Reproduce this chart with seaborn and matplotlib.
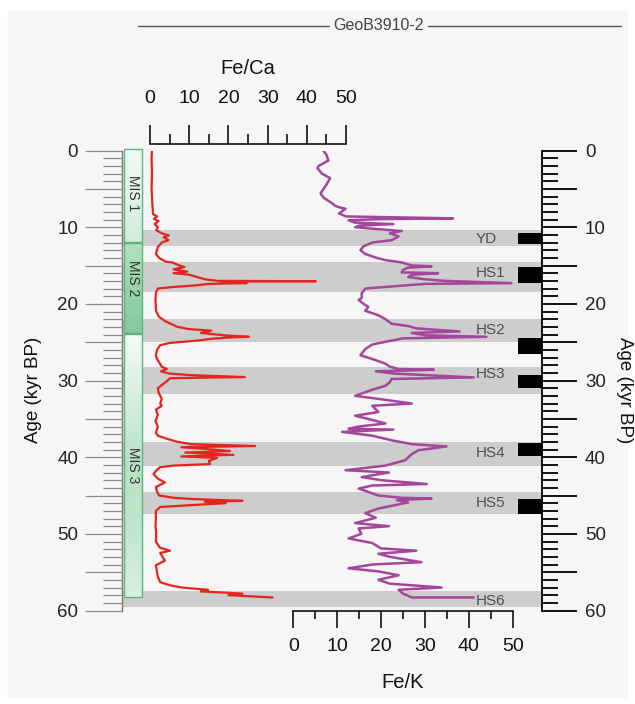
import numpy as np
import pandas as pd
import matplotlib
matplotlib.use("Agg")
import matplotlib.pyplot as plt
import seaborn as sns
from matplotlib.ticker import MultipleLocator, FuncFormatter
from matplotlib.lines import Line2D
from matplotlib.patches import Rectangle
import matplotlib.colors as mcolors

# ---------------- data ----------------
age_ca = [0.0, 1.0, 3.0, 5.0, 7.0, 8.3, 8.6, 8.9, 9.2, 9.6, 10.0, 10.4, 10.8, 11.1, 11.3, 11.7,
          12.0, 12.6, 13.5, 14.0, 14.5, 14.6, 15.0, 15.2, 15.5, 15.8, 16.0, 16.2, 16.5, 16.8,
          17.0, 17.05, 17.1, 17.3, 17.4, 17.6, 17.8, 18.0, 18.6, 19.5, 20.5, 21.0, 21.7, 22.3,
          23.0, 23.3, 23.5, 23.8, 24.1, 24.3, 24.4, 24.6, 24.8, 25.1, 25.4, 26.0, 26.7, 27.2,
          27.6, 28.2, 28.5, 28.8, 29.1, 29.3, 29.55, 29.7, 30.0, 30.4, 31.0, 31.6, 32.4, 33.0,
          33.3, 33.8, 34.5, 35.3, 36.0, 36.8, 37.2, 37.6, 38.0, 38.3, 38.55, 38.7, 39.0, 39.2,
          39.4, 39.7, 39.9, 40.1, 40.5, 40.9, 41.1, 41.3, 41.8, 42.2, 42.8, 43.3, 43.9, 44.5,
          45.0, 45.3, 45.45, 45.7, 45.8, 46.0, 46.2, 46.5, 47.0, 48.0, 49.0, 50.0, 51.0, 51.8,
          52.2, 52.5, 53.0, 53.5, 54.1, 55.0, 55.6, 56.3, 56.7, 57.0, 57.3, 57.5, 57.8, 58.0, 58.3]
fe_ca = [0.5, 0.4, 0.5, 0.4, 0.6, 0.8, 1.8, 1.0, 2.2, 1.2, 2.0, 1.6, 3.0, 4.8, 3.5, 4.7,
         3.0, 2.0, 1.5, 2.3, 4.0, 5.7, 7.5, 8.8, 6.0, 9.5, 6.0, 10.0, 12.0, 14.0,
         17.1, 42.3, 18.0, 24.7, 15.0, 11.4, 6.0, 2.0, 1.5, 1.4, 1.5, 1.6, 2.3, 4.0,
         7.0, 10.0, 15.6, 13.0, 19.0, 25.2, 19.6, 15.0, 12.0, 5.0, 2.6, 1.8, 1.5, 1.8,
         2.3, 3.0, 4.3, 2.8, 5.0, 10.5, 24.2, 5.1, 4.5, 3.5, 2.0, 2.2, 3.0, 2.6,
         3.0, 1.5, 2.0, 1.4, 2.0, 1.5, 2.0, 4.3, 7.0, 10.5, 26.8, 8.0, 16.0, 20.4,
         9.0, 21.3, 8.0, 17.1, 15.0, 15.3, 6.0, 2.6, 1.5, 0.9, 2.0, 3.8, 1.5, 1.8,
         2.3, 6.0, 10.5, 23.6, 14.0, 19.3, 12.3, 2.6, 1.5, 1.5, 1.4, 1.6, 1.5, 2.5,
         5.1, 2.6, 3.2, 3.8, 1.5, 1.8, 2.0, 2.6, 5.0, 8.0, 14.8, 13.0, 23.6, 20.0, 31.3]

age_k = [0.0, 0.5, 1.3, 2.0, 2.3, 3.0, 3.6, 4.5, 5.6, 6.2, 6.9, 7.2, 7.4, 7.6, 8.2, 8.6,
         8.85, 8.95, 9.1, 9.4, 9.6, 9.8, 10.0, 10.2, 10.5, 10.8, 11.2, 11.7, 12.0, 12.5,
         13.0, 13.5, 14.0, 14.3, 14.6, 15.0, 15.1, 15.3, 15.6, 15.9, 16.0, 16.2, 16.5, 16.8,
         17.0, 17.3, 17.4, 17.6, 18.0, 18.6, 19.2, 19.5, 20.0, 20.4, 20.9, 21.5, 22.0, 22.6,
         22.9, 23.2, 23.6, 23.8, 24.1, 24.3, 24.5, 24.8, 25.3, 25.9, 26.7, 27.2, 27.8, 28.2,
         28.5, 28.6, 28.8, 29.1, 29.6, 29.8, 30.2, 30.7, 31.2, 32.0, 32.4, 33.0, 33.3, 34.1,
         34.6, 35.0, 35.6, 36.0, 36.3, 36.4, 36.7, 37.2, 37.8, 38.3, 38.6, 39.1, 39.6, 40.4,
         41.1, 41.7, 42.0, 42.6, 43.0, 43.5, 43.7, 44.1, 45.0, 45.3, 45.4, 45.6, 45.9, 46.7,
         47.3, 47.9, 48.6, 49.0, 49.3, 50.0, 50.6, 51.2, 51.9, 52.2, 52.6, 53.0, 53.7, 54.0,
         54.5, 54.9, 55.4, 56.0, 56.5, 57.0, 57.3, 57.8, 58.3, 58.3]
fe_k = [6.8, 7.5, 8.0, 5.8, 5.5, 6.5, 8.4, 7.5, 6.2, 7.0, 8.9, 9.5, 10.4, 11.9, 10.4, 12.0,
        36.4, 20.0, 12.6, 14.0, 22.8, 15.0, 14.1, 18.0, 24.7, 22.0, 24.0, 22.4, 18.0, 16.0,
        15.3, 16.4, 19.0, 21.0, 24.7, 27.0, 31.5, 26.0, 25.0, 24.7, 33.0, 27.0, 26.2, 30.0,
        34.5, 49.7, 30.0, 25.5, 16.4, 15.6, 15.6, 14.9, 16.0, 17.1, 16.4, 19.4, 21.0, 22.4,
        26.2, 28.0, 37.9, 27.0, 30.0, 44.0, 25.0, 22.4, 18.0, 16.4, 15.3, 18.0, 21.0, 22.0,
        24.0, 32.0, 18.8, 23.0, 41.1, 22.4, 22.0, 21.0, 18.0, 14.1, 19.4, 27.0, 18.0, 19.4,
        14.1, 17.0, 21.0, 15.0, 12.6, 22.8, 11.1, 18.0, 22.4, 27.0, 34.9, 28.5, 27.0, 25.5,
        21.0, 11.9, 21.8, 15.6, 20.0, 30.4, 18.0, 14.9, 19.4, 24.7, 31.5, 23.6, 26.2, 19.4,
        16.4, 18.8, 14.1, 21.8, 14.9, 15.5, 12.6, 18.0, 20.0, 28.0, 19.4, 22.0, 29.2, 18.0,
        12.6, 19.4, 24.0, 19.4, 22.0, 33.8, 24.0, 25.0, 27.0, 41.1]

event_labels = ["YD", "HS1", "HS2", "HS3", "HS4", "HS5", "HS6"]
band_start = [10.4, 14.6, 22.0, 28.3, 38.0, 44.6, 57.5]
band_end = [12.5, 18.5, 25.0, 31.7, 41.2, 47.4, 59.6]
label_age = [11.6, 16.0, 23.4, 29.1, 39.4, 46.0, 58.7]
bar_start = [10.7, 15.2, 24.5, 29.3, 38.1, 45.4]
bar_end = [12.2, 17.3, 26.5, 31.0, 39.8, 47.4]

mis_labels = ["MIS 1", "MIS 2", "MIS 3"]
mis_start = [-0.2, 12.1, 23.95]
mis_end = [11.9, 23.8, 58.3]
mis_text_age = [5.6, 16.7, 41.0]

ca_ticks = [0, 10, 20, 30, 40, 50]
k_ticks = [0, 10, 20, 30, 40, 50]
age_ticks = [0, 10, 20, 30, 40, 50, 60]

# ---------------- style ----------------
sns.set_style("white")
plt.rcParams["font.family"] = ["Liberation Sans", "DejaVu Sans"]

W, H = 635, 704
fig = plt.figure(figsize=(W / 100, H / 100), dpi=100)
fig.patch.set_facecolor("white")


def fx(x):
    return x / W


def fy(y):
    return 1 - y / H


def axes_px(x0, y0, x1, y1, **kw):
    return fig.add_axes([x0 / W, 1 - y1 / H, (x1 - x0) / W, (y1 - y0) / H], **kw)


fig.add_artist(Rectangle((fx(8), fy(697)), (627 - 8) / W, (697 - 11) / H,
                         transform=fig.transFigure, color="#f6f6f6", zorder=-10))

Y0, Y1 = 150.5, 610.5
RED = "#e4241f"
PURPLE = "#a3479c"

# bands / left axis
axb = axes_px(122, Y0, 542, Y1)
axb.set_zorder(0)
axb.set_facecolor("none")
axb.set_xlim(0, 1)
axb.set_ylim(60, 0)
for s in ["top", "bottom", "right"]:
    axb.spines[s].set_visible(False)
axb.spines["left"].set_color("#7a7a7a")
axb.spines["left"].set_linewidth(1.0)
axb.set_xticks([])
axb.yaxis.set_major_locator(MultipleLocator(5))
axb.yaxis.set_minor_locator(MultipleLocator(1))
fmt = FuncFormatter(lambda v, p: f"{int(round(v))}" if int(round(v)) in age_ticks else "")
axb.yaxis.set_major_formatter(fmt)
axb.tick_params(axis="y", which="major", left=True, length=26.5, width=0.9, color="#8a8a8a",
                pad=5, labelsize=13.5, labelcolor="#222222")
axb.tick_params(axis="y", which="minor", left=True, length=13.5, width=0.9, color="#8a8a8a")
for a, b in zip(band_start, band_end):
    axb.axhspan(a, b, color="#cdcdcd", lw=0, zorder=0)
for a, b in zip(bar_start, bar_end):
    axb.axhspan(a, b, xmin=(518 - 122) / 420, xmax=1, color="black", lw=0, zorder=1)
for lab, ag in zip(event_labels, label_age):
    axb.text((476 - 122) / 420, ag, lab, ha="left", va="center", fontsize=11,
             color="#505050", zorder=5)

# right axis
axr = axb.twinx()
axr.set_ylim(60, 0)
for s in ["top", "bottom", "left"]:
    axr.spines[s].set_visible(False)
axr.spines["right"].set_color("black")
axr.spines["right"].set_linewidth(1.3)
axr.yaxis.set_major_locator(MultipleLocator(5))
axr.yaxis.set_minor_locator(MultipleLocator(1))
axr.yaxis.set_major_formatter(fmt)
axr.tick_params(axis="y", which="major", right=True, length=25, width=1.3, color="black",
                pad=6, labelsize=13.5, labelcolor="#222222")
axr.tick_params(axis="y", which="minor", right=True, length=11.5, width=1.3, color="black")

# MIS boxes
axm = axes_px(124, Y0, 142, Y1)
axm.set_zorder(1)
axm.set_facecolor("none")
axm.set_xlim(0, 1)
axm.set_ylim(60, 0)
axm.axis("off")
mis_stops = [["#f1f9f4", "#e2f3e8", "#d3ecdc"],
             ["#b3e0c2", "#96d2ab", "#84c99c"],
             ["#f4fbf6", "#d7efdf", "#b7e1c5", "#c2e6ce", "#d9efe1"]]
for st, en, stops, lab, ta in zip(mis_start, mis_end, mis_stops, mis_labels, mis_text_age):
    cmap = mcolors.LinearSegmentedColormap.from_list("g", stops)
    grad = np.linspace(0, 1, 100).reshape(-1, 1)
    axm.imshow(grad, cmap=cmap, aspect="auto", extent=[0, 1, en, st], origin="upper",
               interpolation="bilinear", zorder=1)
    axm.add_patch(Rectangle((0, st), 1, en - st, fill=False, edgecolor="#5db47d",
                            lw=1.0, zorder=2, clip_on=False))
    axm.text(0.5, ta, lab, rotation=270, ha="center", va="center", fontsize=10,
             color="#333333", zorder=3)
axm.set_xlim(0, 1)
axm.set_ylim(60, 0)

# Fe/Ca
df_ca = pd.DataFrame({"age": age_ca, "FeCa": fe_ca})
axc = axes_px(150, Y0, 346, Y1)
axc.set_zorder(2)
axc.set_facecolor("none")
sns.lineplot(data=df_ca, x="FeCa", y="age", sort=False, estimator=None, orient="y",
             color=RED, lw=1.6, ax=axc)
axc.set_xlim(0, 50)
axc.set_ylim(60, 0)
for s in ["left", "right", "bottom"]:
    axc.spines[s].set_visible(False)
axc.spines["top"].set_position(("outward", 5))
axc.spines["top"].set_linewidth(1.2)
axc.spines["top"].set_color("#111111")
axc.set_yticks([])
axc.set_ylabel("")
axc.xaxis.set_ticks_position("top")
axc.xaxis.set_label_position("top")
axc.set_xticks(ca_ticks)
axc.xaxis.set_minor_locator(MultipleLocator(5))
axc.tick_params(axis="x", which="major", top=True, direction="out", length=13.5, width=1.2,
                color="#111111", pad=13, labelsize=14, labelcolor="#111111")
axc.tick_params(axis="x", which="minor", top=True, direction="out", length=7.5, width=1.2,
                color="#111111")
axc.set_xlabel("Fe/Ca", fontsize=14.5, labelpad=11, color="#111111")

# Fe/K
df_k = pd.DataFrame({"age": age_k, "FeK": fe_k})
axk = axes_px(293.3, Y0, 512.7, Y1)
axk.set_zorder(3)
axk.set_facecolor("none")
sns.lineplot(data=df_k, x="FeK", y="age", sort=False, estimator=None, orient="y",
             color=PURPLE, lw=1.8, ax=axk)
axk.set_xlim(0, 50)
axk.set_ylim(60, 0)
for s in ["left", "right", "top"]:
    axk.spines[s].set_visible(False)
axk.spines["bottom"].set_linewidth(1.2)
axk.spines["bottom"].set_color("#111111")
axk.set_yticks([])
axk.set_ylabel("")
axk.set_xticks(k_ticks)
axk.xaxis.set_minor_locator(MultipleLocator(5))
axk.tick_params(axis="x", which="major", bottom=True, direction="out", length=12, width=1.2,
                color="#111111", pad=8, labelsize=14, labelcolor="#111111")
axk.tick_params(axis="x", which="minor", bottom=True, direction="out", length=6, width=1.2,
                color="#111111")
axk.set_xlabel("Fe/K", fontsize=14.5, labelpad=13, color="#111111")

# side labels and title
fig.text(fx(33), fy(390), "Age (kyr BP)", rotation=90, ha="center", va="center",
         fontsize=13.5, color="#111111")
fig.text(fx(624), fy(390), "Age (kyr BP)", rotation=270, ha="center", va="center",
         fontsize=13.5, color="#111111")
fig.text(fx(378), fy(26), "GeoB3910-2", ha="center", va="center", fontsize=11.5,
         color="#444444")
fig.add_artist(Line2D([fx(138), fx(329)], [fy(26), fy(26)], color="#555555", lw=1.0))
fig.add_artist(Line2D([fx(428), fx(621)], [fy(26), fy(26)], color="#555555", lw=1.0))

fig.savefig("out.png", dpi=100, facecolor=fig.get_facecolor())
